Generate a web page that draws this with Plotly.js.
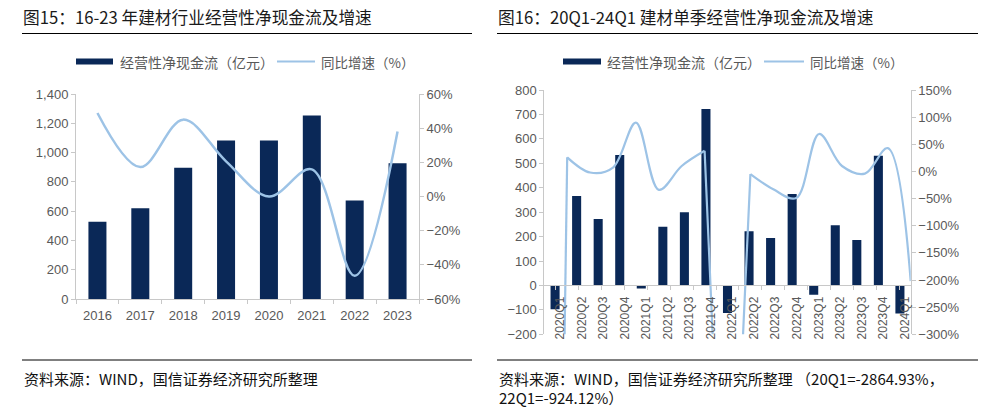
<!DOCTYPE html>
<html><head><meta charset="utf-8">
<script src="https://cdn.plot.ly/plotly-3.0.1.min.js"></script>
<style>html,body{margin:0;padding:0;background:#fff;}#chart{width:999px;height:408px;}</style>
</head><body><div id="chart"></div>
<script>
// ---- data ----
const years = ['2016','2017','2018','2019','2020','2021','2022','2023'];
const annualCash = [528, 619, 897, 1082, 1082, 1254, 672, 927];
const annualGrowth = [48.9, 17.2, 45.0, 20.6, 0.0, 15.9, -46.4, 38.0];

const quarters = ['2020Q1','2020Q2','2020Q3','2020Q4','2021Q1','2021Q2','2021Q3','2021Q4',
                  '2022Q1','2022Q2','2022Q3','2022Q4','2023Q1','2023Q2','2023Q3','2023Q4','2024Q1'];
const quarterCash = [-97, 366, 272, 534, -13, 240, 300, 722, -113, 222, 194, 374, -38, 246, 186, 531, -115];
const quarterGrowth = [-2864.93, 26, -2, 7, 90, -34, 10, 38, -924.12, -5, -33, -49, 69, 10, -4, 43, -202];

const barName = '经营性净现金流（亿元）';
const lineName = '同比增速（%）';

// ---- style ----
const W = 999, H = 408;
const fx = p => p / W, fy = p => 1 - p / H;
const navy = '#0a2857', lightBlue = '#9dc3e6', axisGray = '#c8c8c8', textGray = '#595959';
const tickFont = {family: 'Liberation Sans, Arial, sans-serif', size: 13, color: textGray};
const cjk = 'Noto Sans CJK SC, sans-serif';

// quarterly growth line: the off-scale quarters (20Q1, 22Q1) are joined with straight
// segments, the rest is smoothed
function growthPiece(from, to, shape) {
  return {type: 'scatter', mode: 'lines', x: quarters.slice(from, to + 1), y: quarterGrowth.slice(from, to + 1),
    xaxis: 'x4', yaxis: 'y4', line: {color: lightBlue, width: 2.2, shape: shape, smoothing: 1},
    name: lineName, hoverinfo: 'skip'};
}

const traces = [
  {type: 'bar', x: years, y: annualCash, xaxis: 'x', yaxis: 'y', marker: {color: navy}, name: barName, hoverinfo: 'skip'},
  {type: 'scatter', mode: 'lines', x: years, y: annualGrowth, xaxis: 'x', yaxis: 'y2',
   line: {color: lightBlue, width: 2.5, shape: 'spline', smoothing: 1}, name: lineName, hoverinfo: 'skip'},
  {type: 'bar', x: quarters, y: quarterCash, xaxis: 'x3', yaxis: 'y3', marker: {color: navy}, name: barName, hoverinfo: 'skip'},
  growthPiece(0, 1, 'linear'),
  growthPiece(1, 7, 'spline'),
  growthPiece(7, 9, 'linear'),
  growthPiece(9, 16, 'spline')
];

const baseAxis = {showgrid: false, zeroline: false, showline: true, linecolor: axisGray, linewidth: 1,
  ticks: 'outside', ticklen: 4, tickcolor: axisGray, tickfont: tickFont, fixedrange: true};

const rBottom = 334.3, rTop = 90;
const zeroPaper = fy(rBottom) + (200 / 1000) * (fy(rTop) - fy(rBottom));

const layout = {
  width: W, height: H, margin: {l: 0, r: 0, t: 0, b: 0},
  paper_bgcolor: '#fff', plot_bgcolor: 'rgba(0,0,0,0)', showlegend: false,
  bargap: 0.58,
  xaxis: Object.assign({}, baseAxis, {domain: [fx(76), fx(419)], anchor: 'y', type: 'category', tickson: 'boundaries', ticklabelstandoff: 4}),
  yaxis: Object.assign({}, baseAxis, {domain: [fy(299), fy(94)], anchor: 'x', range: [0, 1400], dtick: 200, tickformat: ','}),
  yaxis2: Object.assign({}, baseAxis, {overlaying: 'y', side: 'right', anchor: 'x', range: [-60, 60], dtick: 20, ticksuffix: '%'}),
  xaxis3: Object.assign({}, baseAxis, {domain: [fx(544.3), fx(910.7)], anchor: 'y3', type: 'category', showline: false,
    ticks: '', tickangle: -90, ticklabelstandoff: -41, ticklabelshift: 5, layer: 'above traces',
    tickfont: {family: tickFont.family, size: 12, color: textGray}}),
  xaxis4: Object.assign({}, baseAxis, {overlaying: 'x3', anchor: 'free', position: zeroPaper, type: 'category',
    tickson: 'boundaries', showticklabels: false}),
  yaxis3: Object.assign({}, baseAxis, {domain: [fy(rBottom), fy(rTop)], anchor: 'x3', range: [-200, 800], dtick: 100}),
  yaxis4: Object.assign({}, baseAxis, {overlaying: 'y3', side: 'right', anchor: 'x3', range: [-300, 150], dtick: 50, ticksuffix: '%'}),
  shapes: [
    {type: 'line', xref: 'paper', yref: 'paper', x0: fx(22), x1: fx(472), y0: fy(33.5), y1: fy(33.5), line: {color: '#000', width: 1}},
    {type: 'line', xref: 'paper', yref: 'paper', x0: fx(497), x1: fx(978), y0: fy(33.5), y1: fy(33.5), line: {color: '#000', width: 1}},
    {type: 'line', xref: 'paper', yref: 'paper', x0: fx(22), x1: fx(472), y0: fy(360), y1: fy(360), line: {color: '#000', width: 1}},
    {type: 'line', xref: 'paper', yref: 'paper', x0: fx(497), x1: fx(978), y0: fy(360), y1: fy(360), line: {color: '#000', width: 1}},
    // legend swatches
    {type: 'rect', xref: 'paper', yref: 'paper', x0: fx(76), x1: fx(113), y0: fy(64.5), y1: fy(58.5), fillcolor: navy, line: {width: 0}},
    {type: 'line', xref: 'paper', yref: 'paper', x0: fx(277), x1: fx(315), y0: fy(61.5), y1: fy(61.5), line: {color: lightBlue, width: 2}},
    {type: 'rect', xref: 'paper', yref: 'paper', x0: fx(563), x1: fx(601), y0: fy(64.5), y1: fy(58.5), fillcolor: navy, line: {width: 0}},
    {type: 'line', xref: 'paper', yref: 'paper', x0: fx(764), x1: fx(804), y0: fy(61.5), y1: fy(61.5), line: {color: lightBlue, width: 2}}
  ],
  annotations: [
    {text: '图15：16-23 年建材行业经营性净现金流及增速', x: fx(21), y: fy(17), font: {family: cjk, size: 16.7, color: '#1a1a1a'}},
    {text: '图16：20Q1-24Q1 建材单季经营性净现金流及增速', x: fx(496), y: fy(17), font: {family: cjk, size: 16.7, color: '#1a1a1a'}},
    {text: barName, x: fx(118), y: fy(61.5), font: {family: cjk, size: 14, color: textGray}},
    {text: lineName, x: fx(319), y: fy(61.5), font: {family: cjk, size: 13.5, color: textGray}},
    {text: barName, x: fx(605), y: fy(61.5), font: {family: cjk, size: 14, color: textGray}},
    {text: lineName, x: fx(808), y: fy(61.5), font: {family: cjk, size: 13.5, color: textGray}},
    {text: '资料来源：WIND，国信证券经济研究所整理', x: fx(22), y: fy(378), font: {family: cjk, size: 15, color: '#111'}},
    {text: '资料来源：WIND，国信证券经济研究所整理 （20Q1=-2864.93%，', x: fx(497), y: fy(378), font: {family: cjk, size: 15, color: '#111'}},
    {text: '22Q1=-924.12%）', x: fx(497), y: fy(397), font: {family: cjk, size: 15, color: '#111'}}
  ].map(a => Object.assign({xref: 'paper', yref: 'paper', xanchor: 'left', yanchor: 'middle', showarrow: false}, a))
};

Plotly.newPlot('chart', traces, layout, {staticPlot: true, displayModeBar: false});
</script>
</body></html>
